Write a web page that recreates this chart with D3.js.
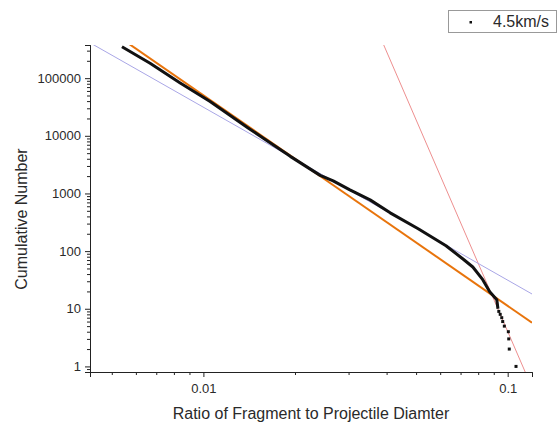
<!DOCTYPE html>
<html>
<head>
<meta charset="utf-8">
<script src="https://cdn.jsdelivr.net/npm/d3@7"></script>
<style>
  body { margin: 0; background: #fff; }
  text { font-family: "Liberation Sans", Arial, sans-serif; fill: #2a2a2a; }
</style>
</head>
<body>
<div id="chart"></div>
<script>
// Chart size
var svgWidth = 558;
var svgHeight = 423;

var margin = { top: 45, right: 26, bottom: 51, left: 90 };
var width = svgWidth - margin.left - margin.right;
var height = svgHeight - margin.top - margin.bottom;

var ratio = [0.0054, 0.00668, 0.00839, 0.01052, 0.01403, 0.0157, 0.0193, 0.0242, 0.0267,
  0.0303, 0.0353, 0.0411, 0.0508, 0.0627, 0.0713, 0.0768, 0.0828, 0.0873, 0.0921, 0.0929];
var count = [351000, 181000, 82600, 39500, 13700, 9200, 4400, 2060, 1653,
  1154, 774, 461, 244, 124, 73, 53, 32, 19.7, 14.3, 10];

// Sparse tail of the distribution
var tailRatio = [0.0935, 0.0945, 0.0956, 0.0963, 0.0975, 0.1005, 0.1008, 0.1012, 0.1065];
var tailCount = [9, 8, 7, 6, 5, 4, 3, 2, 1];

// Power law fits N = 10^logA * r^b
var fitNames = ["fit1", "fit2", "fit3"];
var fitLogA = [-2.602, -1.504, -11.594];
var fitB = [-3.652, -3.0, -12.2];

// Axis ranges and ticks
var xDomain = [0.00424, 0.1202];
var yDomain = [0.80, 376000];
var xMajor = [0.01, 0.1];
var yMajor = [1, 10, 100, 1000, 10000, 100000];
var seriesName = "4.5km/s";

var fitStyle = {
  fit1: { color: "#e8740c", width: 2 },
  fit2: { color: "#a9a6e6", width: 1 },
  fit3: { color: "#ee8f8f", width: 1 }
};

var svg = d3.select("#chart")
  .append("svg")
  .attr("width", svgWidth)
  .attr("height", svgHeight);

var chartGroup = svg.append("g")
  .attr("transform", `translate(${margin.left}, ${margin.top})`);

var xScale = d3.scaleLog().domain(xDomain).range([0, width]);
var yScale = d3.scaleLog().domain(yDomain).range([height, 0]);

// minor ticks k*10^n, k = 2..9, inside the domain
function minorTicks(domain) {
  var out = [];
  for (var e = Math.floor(Math.log10(domain[0])); e <= Math.ceil(Math.log10(domain[1])); e++) {
    for (var k = 2; k <= 9; k++) {
      var v = k * Math.pow(10, e);
      if (v >= domain[0] && v <= domain[1]) out.push(v);
    }
  }
  return out;
}

chartGroup.append("clipPath").attr("id", "plotClip")
  .append("rect").attr("width", width).attr("height", height);

// fit lines
var fitData = fitNames.map(function(n, i) {
  return { name: n, pts: xDomain.map(function(r) {
    return [r, Math.pow(10, fitLogA[i]) * Math.pow(r, fitB[i])];
  }) };
});

var line = d3.line()
  .x(d => xScale(d[0]))
  .y(d => yScale(d[1]));

chartGroup.append("g")
  .attr("clip-path", "url(#plotClip)")
  .selectAll("path")
  .data(fitData.slice().reverse())
  .enter()
  .append("path")
  .attr("d", d => line(d.pts))
  .attr("fill", "none")
  .attr("stroke", d => fitStyle[d.name].color)
  .attr("stroke-width", d => fitStyle[d.name].width);

// dense data drawn as thick line of points
var dense = ratio.map((r, i) => [r, count[i]]);
chartGroup.append("path")
  .attr("d", line(dense))
  .attr("fill", "none")
  .attr("stroke", "#111")
  .attr("stroke-width", 3)
  .attr("stroke-linejoin", "round");

chartGroup.selectAll(".tail")
  .data(tailRatio.map((r, i) => [r, tailCount[i]]))
  .enter()
  .append("rect")
  .attr("class", "tail")
  .attr("x", d => xScale(d[0]) - 1.5)
  .attr("y", d => yScale(d[1]) - 1.5)
  .attr("width", 3)
  .attr("height", 3)
  .attr("fill", "#111");

// axes
var bottomMajor = d3.axisBottom(xScale).tickValues(xMajor)
  .tickFormat(d3.format("")).tickSize(5).tickPadding(7);
var bottomMinor = d3.axisBottom(xScale).tickValues(minorTicks(xDomain))
  .tickFormat("").tickSize(3);
var leftMajor = d3.axisLeft(yScale).tickValues(yMajor)
  .tickFormat(d3.format("d")).tickSize(5).tickPadding(4);
var leftMinor = d3.axisLeft(yScale).tickValues(minorTicks(yDomain))
  .tickFormat("").tickSize(3);

[bottomMinor, bottomMajor].forEach(function(ax) {
  chartGroup.append("g")
    .attr("transform", `translate(0, ${height})`)
    .call(ax);
});
[leftMinor, leftMajor].forEach(function(ax) {
  chartGroup.append("g").call(ax);
});

chartGroup.selectAll(".domain, .tick line").attr("stroke", "#222");
chartGroup.selectAll(".tick text")
  .style("font-size", "13px")
  .style("font-family", "'Liberation Sans', Arial, sans-serif")
  .attr("fill", "#2a2a2a");

// axis titles
svg.append("text")
  .attr("x", margin.left + width / 2)
  .attr("y", 419)
  .attr("text-anchor", "middle")
  .style("font-size", "16px")
  .text("Ratio of Fragment to Projectile Diamter");

svg.append("text")
  .attr("transform", "translate(27, 219) rotate(-90)")
  .attr("text-anchor", "middle")
  .style("font-size", "16px")
  .text("Cumulative Number");

// legend
var legend = svg.append("g");
legend.append("rect")
  .attr("x", 448.5).attr("y", 10.5)
  .attr("width", 108).attr("height", 22)
  .attr("fill", "#fff")
  .attr("stroke", "#999");
legend.append("rect")
  .attr("x", 469.5).attr("y", 21)
  .attr("width", 2.5).attr("height", 2.5)
  .attr("fill", "#111");
legend.append("text")
  .attr("x", 493).attr("y", 27)
  .style("font-size", "16px")
  .text(seriesName);
</script>
</body>
</html>
